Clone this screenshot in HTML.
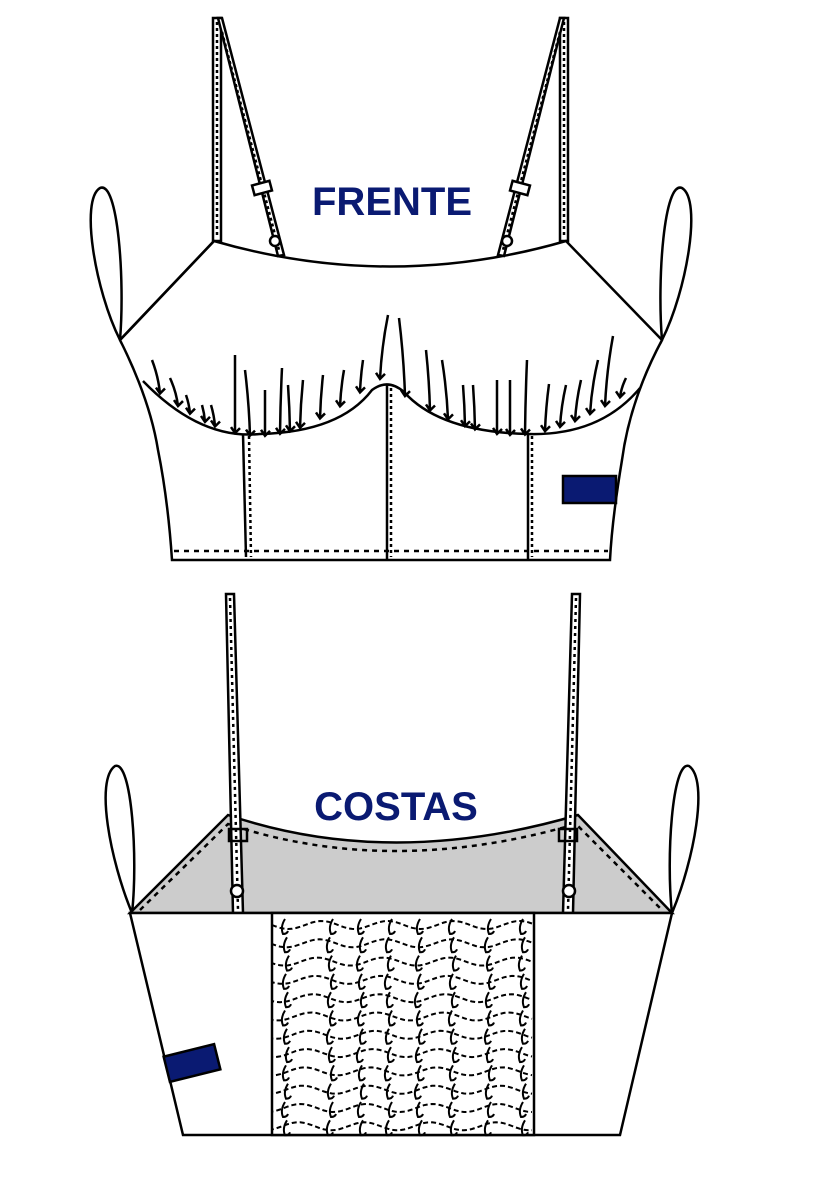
<!DOCTYPE html>
<html><head><meta charset="utf-8"><style>
html,body{margin:0;padding:0;background:#fff}
svg{display:block}
text{font-family:"Liberation Sans",sans-serif;font-weight:bold;fill:#0a1a72}
</style></head><body>
<svg id="s" width="826" height="1179" viewBox="0 0 826 1179" xmlns="http://www.w3.org/2000/svg" fill="none" stroke="#000" stroke-width="2.5">
<!-- FRONT -->
<path d="M120 340 C95 290 80 200 100 188 C118 180 125 280 120 340Z"/>
<path d="M662 340 C687 290 702 200 682 188 C664 180 657 280 662 340Z"/>
<rect x="213" y="18" width="8" height="223" fill="#fff"/>
<line x1="217" y1="22" x2="217" y2="238" stroke-dasharray="3,3"/>
<rect x="560" y="18" width="8" height="223" fill="#fff"/>
<line x1="564" y1="22" x2="564" y2="238" stroke-dasharray="3,3"/>
<path d="M218 18 L222 18 L284 255 L278 256 Z" fill="#fff"/>
<line x1="222" y1="32" x2="279" y2="250" stroke-dasharray="3,3"/>
<path d="M564 18 L560 18 L498 255 L504 256 Z" fill="#fff"/>
<line x1="560" y1="32" x2="503" y2="250" stroke-dasharray="3,3"/>
<rect x="253" y="183" width="18" height="10" fill="#fff" transform="rotate(-15 262 188)"/>
<rect x="511" y="183" width="18" height="10" fill="#fff" transform="rotate(15 520 188)"/>
<circle cx="275" cy="241" r="5" fill="#fff"/>
<circle cx="507" cy="241" r="5" fill="#fff"/>
<path d="M214 241 Q390 292 566 241 L662 340 Q630 400 622 460 Q612 520 610 560 L172 560 Q168 500 158 450 Q150 400 120 340 Z" fill="none"/>
<path d="M214 241 L120 340"/>
<path d="M143 381 Q200 440 260 434 Q340 432 372 390 Q388 378 404 392 Q440 432 528 434 Q600 436 640 388"/>
<line x1="243" y1="434" x2="246" y2="557"/>
<line x1="249" y1="436" x2="251" y2="557" stroke-dasharray="3,3"/>
<line x1="387" y1="384" x2="387" y2="560"/>
<line x1="391" y1="388" x2="391" y2="557" stroke-dasharray="3,3"/>
<line x1="528" y1="434" x2="528" y2="560"/>
<line x1="532" y1="436" x2="532" y2="557" stroke-dasharray="3,3"/>
<line x1="174" y1="551" x2="608" y2="551" stroke-dasharray="5,5"/>
<rect x="563" y="476" width="53" height="27" fill="#0a1a72"/>
<g id="gathers"></g>
<text x="392" y="215" font-size="40" text-anchor="middle" stroke="none">FRENTE</text>

<!-- BACK -->
<path d="M132 913 C110 860 95 780 115 766 C132 760 138 860 132 913Z"/>
<path d="M672 913 C694 860 709 780 689 766 C672 760 666 860 672 913Z"/>
<path d="M130 913 L228 815 Q390 870 578 815 L672 913 Z" fill="#cccccc"/>
<path d="M140 910 L228 824 Q390 878 576 824 L662 910" stroke-dasharray="5,5"/>
<path d="M226 594 L234 594 L243 913 L233 913 Z" fill="#fff"/>
<line x1="230" y1="598" x2="238" y2="910" stroke-dasharray="3,4"/>
<path d="M572 594 L580 594 L573 913 L563 913 Z" fill="#fff"/>
<line x1="576" y1="598" x2="568" y2="910" stroke-dasharray="3,4"/>
<rect x="229" y="829" width="18" height="12" fill="none"/>
<rect x="559" y="829" width="18" height="12" fill="none"/>
<circle cx="237" cy="891" r="6" fill="#fff"/>
<circle cx="569" cy="891" r="6" fill="#fff"/>
<path d="M130 913 L672 913 L620 1135 L183 1135 Z" fill="#fff"/>
<rect x="272" y="913" width="262" height="222" fill="#fff"/>
<g id="smock" stroke-width="2"></g>
<rect x="166" y="1050" width="52" height="26" fill="#0a1a72" transform="rotate(-14 192 1063)"/>
<text x="396" y="820" font-size="40" text-anchor="middle" stroke="none">COSTAS</text>
</svg>
<script>
var NS="http://www.w3.org/2000/svg";
function P(g,d,extra){var p=document.createElementNS(NS,"path");p.setAttribute("d",d);if(extra)for(var k in extra)p.setAttribute(k,extra[k]);document.getElementById(g).appendChild(p);}
function curveY(x){
 if(x<=387){var t=(x-143)/(387-143); return 381+Math.sin(Math.PI*Math.min(1,t*1.05))*55 - (t>0.9?(t-0.9)*30:0);}
 else { var t=(x-387)/(640-387); return 385+Math.sin(Math.PI*t)*50; }
}
var G=[[160,360,8],[178,378,8],[190,395,4],[205,405,3],[215,405,4],[235,355,0],[250,370,5],[265,390,0],[280,368,-2],[290,385,2],[300,380,-3],[320,375,-3],[340,370,-4],[360,360,-3],[380,315,-8],[405,318,6],[430,350,4],[448,360,6],[465,385,2],[475,385,2],[497,380,0],[510,380,0],[525,360,-2],[545,384,-4],[560,385,-6],[575,380,-6],[590,360,-8],[605,336,-8],[620,378,-6]];
G.forEach(function(a){var x=a[0],y=curveY(x),t=a[1];P("gathers","M"+(x-a[2])+" "+t+" Q"+(x-a[2]*0.2)+" "+((t+y)/2)+" "+x+" "+y+" M"+(x-4)+" "+(y-6)+" L"+x+" "+y+" L"+(x+5)+" "+(y-5));});
var cols=[285,330,360,388,418,452,488,522];
for(var r=0;r<12;r++){
 var y=925+r*18.3,d="M272 "+y;
 for(var x=272;x<=534;x+=4){var yy=y+4*Math.sin((x-272)/33*Math.PI+r*0.2);d+=" L"+x+" "+yy.toFixed(1);}
 P("smock",d,{"stroke-dasharray":"5,3"});
 cols.forEach(function(c,i){var cx=c+((r*7+i*3)%5)-2;P("smock","M"+(cx+2)+" "+(y-6)+" Q"+(cx-3)+" "+(y+2)+" "+cx+" "+(y+9)+" q4 0 5 -3");});
}
</script>
</body></html>
